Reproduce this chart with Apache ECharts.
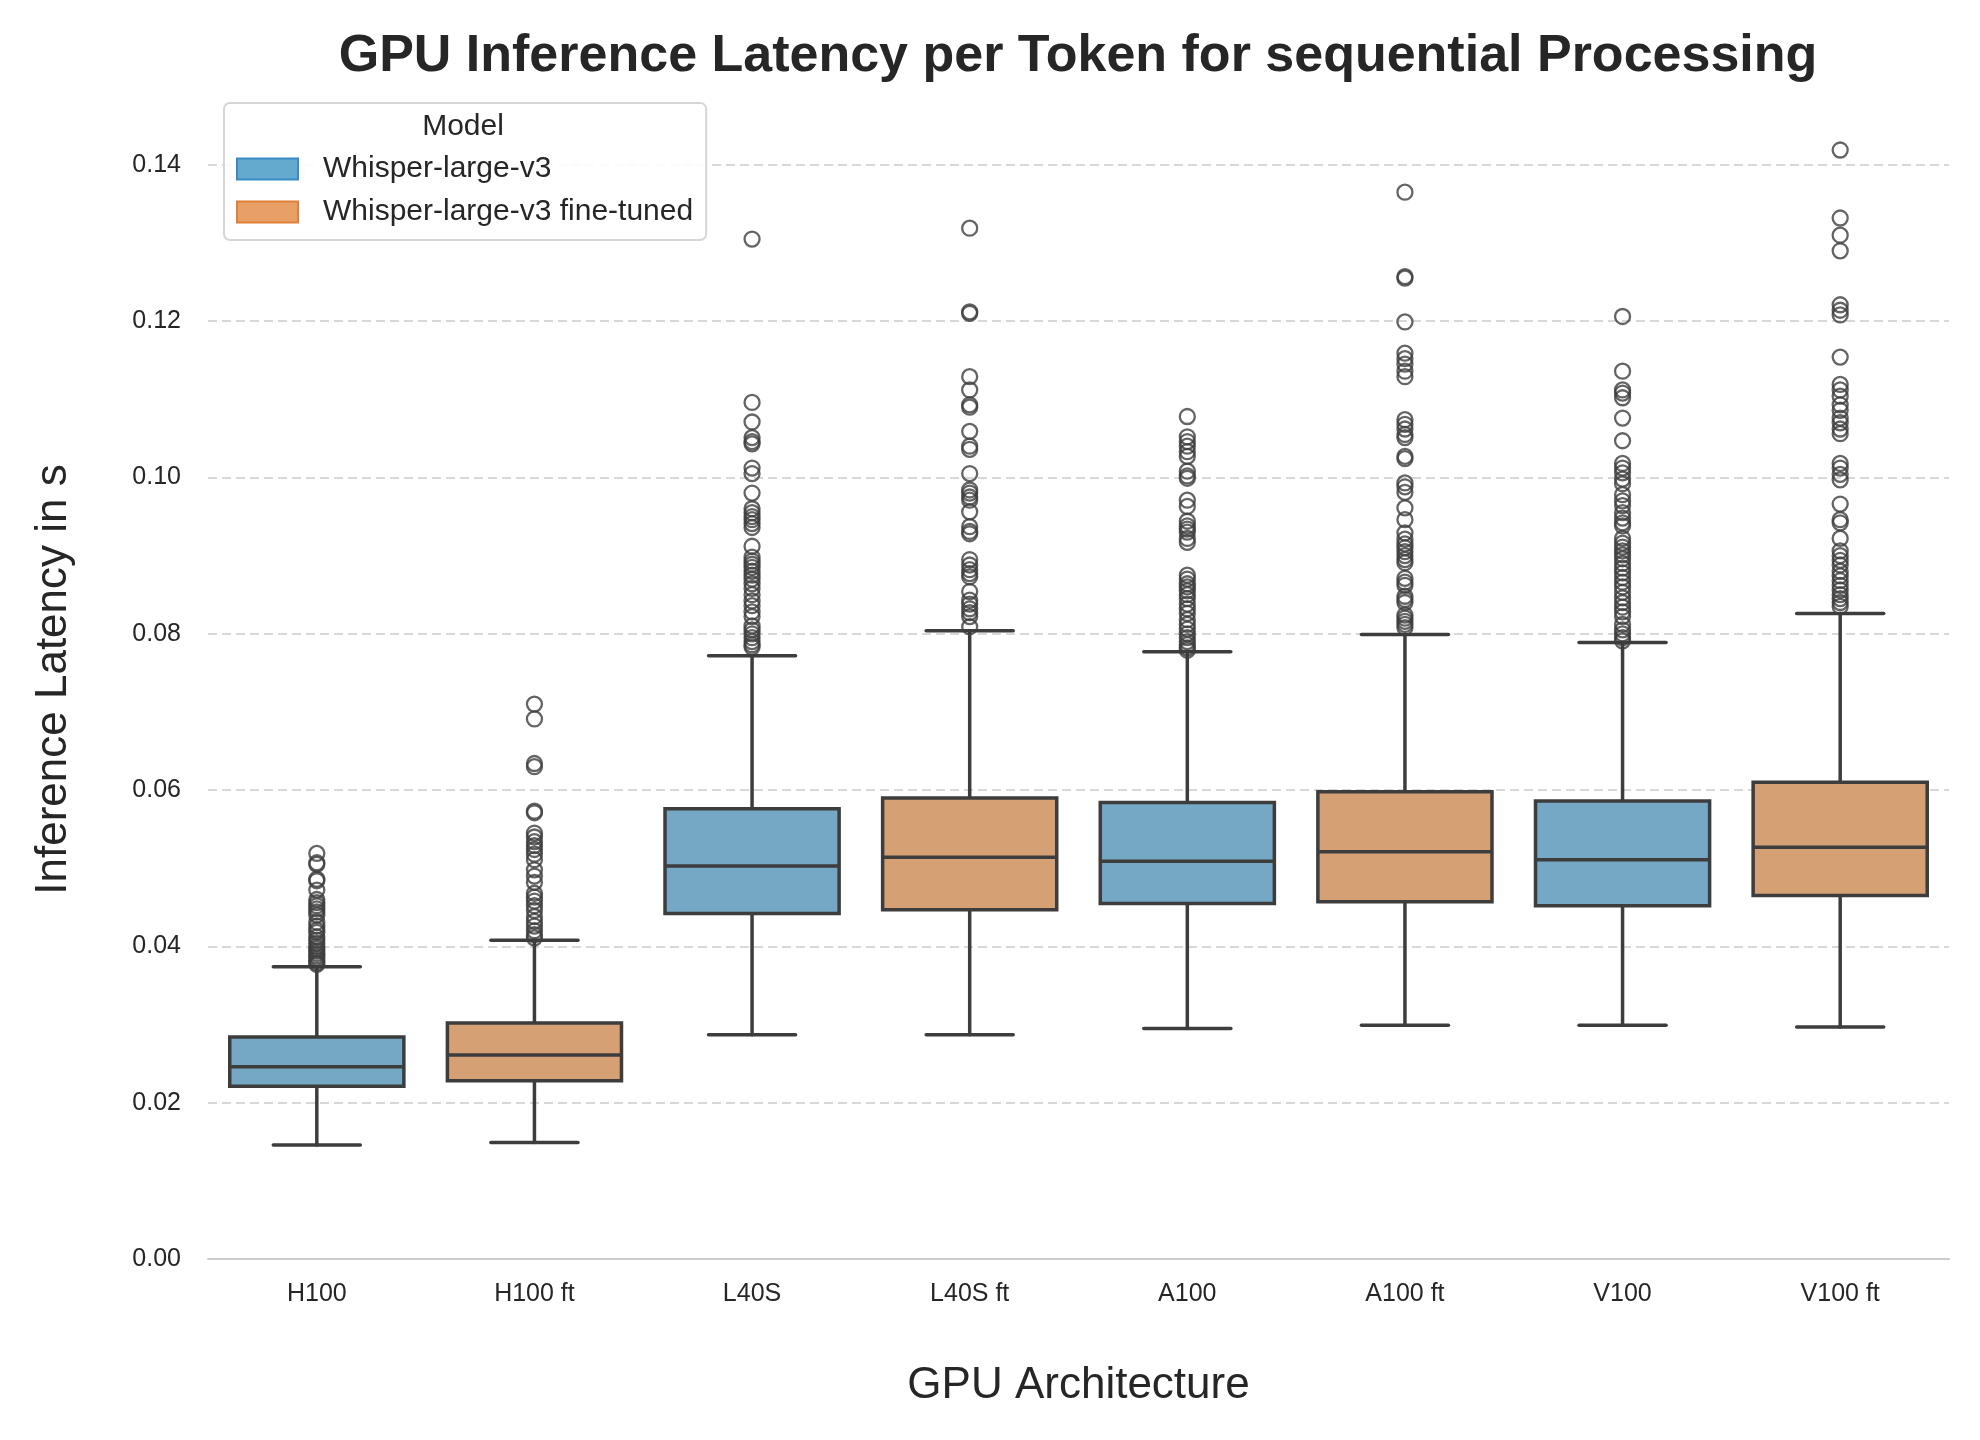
<!DOCTYPE html>
<html>
<head>
<meta charset="utf-8">
<title>GPU Inference Latency per Token</title>
<script src="https://cdn.jsdelivr.net/npm/echarts@6/dist/echarts.min.js"></script>
<style>
  html, body { margin: 0; padding: 0; background: #fff; }
  #chart { width: 1980px; height: 1440px; }
</style>
</head>
<body>
<div id="chart"></div>
<script>
// categorias del eje x
const gpus = ['H100', 'H100 ft', 'L40S', 'L40S ft', 'A100', 'A100 ft', 'V100', 'V100 ft'];
const models = ['Whisper-large-v3', 'Whisper-large-v3 fine-tuned'];

// [bigote inferior, Q1, mediana, Q3, bigote superior]
const boxH100   = [0.0146, 0.0221, 0.0246, 0.0284, 0.0374];
const boxH100ft = [0.0149, 0.0228, 0.0261, 0.0302, 0.0408];
const boxL40S   = [0.0287, 0.0442, 0.0503, 0.0576, 0.0772];
const boxL40Sft = [0.0287, 0.0447, 0.0514, 0.0590, 0.0804];
const boxA100   = [0.0295, 0.0455, 0.0509, 0.0584, 0.0777];
const boxA100ft = [0.0299, 0.0457, 0.0521, 0.0598, 0.0799];
const boxV100   = [0.0299, 0.0452, 0.0511, 0.0586, 0.0789];
const boxV100ft = [0.0297, 0.0465, 0.0527, 0.0610, 0.0826];

// valores atipicos
const outH100 = [0.0519, 0.0507, 0.0505, 0.0486, 0.0484, 0.0472, 0.0460, 0.0456, 0.0452, 0.0448, 0.0444, 0.0440,
  0.0431, 0.0426, 0.0421, 0.0418, 0.0412, 0.0408, 0.0404, 0.0400, 0.0397, 0.0394, 0.0391, 0.0388, 0.0385, 0.0382, 0.0379, 0.0377];
const outH100ft = [0.0710, 0.0691, 0.0634, 0.0630, 0.0573, 0.0571, 0.0545, 0.0540, 0.0534, 0.0529, 0.0524, 0.0518,
  0.0511, 0.0498, 0.0490, 0.0482, 0.0468, 0.0463, 0.0458, 0.0452, 0.0446, 0.0438, 0.0432, 0.0426, 0.0420, 0.0415, 0.0411];
const outL40S = [0.1305, 0.1096, 0.1071, 0.1051, 0.1046, 0.1043, 0.1012, 0.1005, 0.0980, 0.0960, 0.0955, 0.0950,
  0.0946, 0.0941, 0.0936, 0.0912, 0.0898, 0.0893, 0.0889, 0.0885, 0.0880, 0.0875, 0.0870, 0.0864, 0.0858, 0.0850,
  0.0842, 0.0836, 0.0828, 0.0822, 0.0810, 0.0805, 0.0800, 0.0795, 0.0790, 0.0786, 0.0783];
const outL40Sft = [0.1319, 0.1212, 0.1210, 0.1129, 0.1112, 0.1093, 0.1090, 0.1059, 0.1040, 0.1036, 0.1005, 0.0984,
  0.0980, 0.0975, 0.0971, 0.0956, 0.0937, 0.0931, 0.0928, 0.0895, 0.0888, 0.0882, 0.0877, 0.0873, 0.0854, 0.0843,
  0.0838, 0.0832, 0.0827, 0.0822, 0.0809];
const outA100 = [0.1078, 0.1052, 0.1046, 0.1040, 0.1033, 0.1027, 0.1008, 0.1002, 0.0999, 0.0971, 0.0963, 0.0944,
  0.0938, 0.0934, 0.0930, 0.0922, 0.0917, 0.0875, 0.0870, 0.0864, 0.0860, 0.0855, 0.0850, 0.0845, 0.0838, 0.0832,
  0.0826, 0.0818, 0.0812, 0.0806, 0.0800, 0.0795, 0.0790, 0.0786, 0.0782, 0.0779];
const outA100ft = [0.1365, 0.1257, 0.1255, 0.1199, 0.1159, 0.1152, 0.1145, 0.1136, 0.1129, 0.1074, 0.1068, 0.1062,
  0.1055, 0.1051, 0.1027, 0.1024, 0.0993, 0.0988, 0.0981, 0.0961, 0.0946, 0.0929, 0.0921, 0.0915, 0.0910, 0.0905,
  0.0900, 0.0895, 0.0891, 0.0871, 0.0866, 0.0862, 0.0848, 0.0844, 0.0840, 0.0824, 0.0820, 0.0816, 0.0812, 0.0808];
const outV100 = [0.1206, 0.1136, 0.1112, 0.1108, 0.1102, 0.1076, 0.1047, 0.1018, 0.1012, 0.1006, 0.0998, 0.0992,
  0.0978, 0.0970, 0.0964, 0.0955, 0.0948, 0.0942, 0.0938, 0.0922, 0.0916, 0.0911, 0.0906, 0.0901, 0.0896, 0.0890,
  0.0884, 0.0878, 0.0872, 0.0866, 0.0860, 0.0853, 0.0846, 0.0840, 0.0834, 0.0828, 0.0822, 0.0812, 0.0805, 0.0800,
  0.0795, 0.0791];
const outV100ft = [0.1419, 0.1332, 0.1310, 0.1290, 0.1221, 0.1214, 0.1208, 0.1154, 0.1119, 0.1112, 0.1104, 0.1093,
  0.1086, 0.1076, 0.1070, 0.1062, 0.1056, 0.1018, 0.1012, 0.1004, 0.0997, 0.0966, 0.0946, 0.0942, 0.0922, 0.0906,
  0.0900, 0.0894, 0.0888, 0.0880, 0.0874, 0.0868, 0.0862, 0.0856, 0.0850, 0.0845, 0.0840, 0.0835];

const boxes = [boxH100, boxH100ft, boxL40S, boxL40Sft, boxA100, boxA100ft, boxV100, boxV100ft];
const outliers = [outH100, outH100ft, outL40S, outL40Sft, outA100, outA100ft, outV100, outV100ft];

const FONT = '"Liberation Sans", Arial, sans-serif';
const INK = '#262626';
const EDGE = '#3d3d3d';
const boxColors = ['#74a8c5', '#d5a074'];

// indice par = modelo base, impar = fine-tuned
function boxData(modelIdx) {
    return boxes.map((b, i) => [i].concat(b)).filter(d => d[0] % 2 === modelIdx);
}

function drawBox(params, api) {
    const cat = api.value(0);
    const lo = api.coord([cat, api.value(1)]);
    const q1 = api.coord([cat, api.value(2)]);
    const med = api.coord([cat, api.value(3)]);
    const q3 = api.coord([cat, api.value(4)]);
    const hi = api.coord([cat, api.value(5)]);
    const w = api.size([1, 0])[0] * 0.8;
    const cx = med[0];
    const ln = () => ({ stroke: EDGE, lineWidth: 3.5, lineCap: 'round' });
    return {
        type: 'group',
        children: [
            { type: 'line', shape: { x1: cx, y1: q3[1], x2: cx, y2: hi[1] }, style: ln() },
            { type: 'line', shape: { x1: cx, y1: q1[1], x2: cx, y2: lo[1] }, style: ln() },
            { type: 'line', shape: { x1: cx - w / 4, y1: hi[1], x2: cx + w / 4, y2: hi[1] }, style: ln() },
            { type: 'line', shape: { x1: cx - w / 4, y1: lo[1], x2: cx + w / 4, y2: lo[1] }, style: ln() },
            { type: 'rect', shape: { x: cx - w / 2, y: q3[1], width: w, height: q1[1] - q3[1] },
              style: { fill: api.visual('color'), stroke: EDGE, lineWidth: 3.5 } },
            { type: 'line', shape: { x1: cx - w / 2, y1: med[1], x2: cx + w / 2, y2: med[1] },
              style: { stroke: EDGE, lineWidth: 3.5 } }
        ]
    };
}

const outlierData = [];
outliers.forEach((list, i) => list.forEach(v => outlierData.push([i, v])));

const chart = echarts.init(document.getElementById('chart'));
chart.setOption({
    animation: false,
    backgroundColor: '#ffffff',
    graphic: [
        { type: 'text', x: 1078, y: 57, z: 10,
          style: { text: 'GPU Inference Latency per Token for sequential Processing', font: 'bold 52px ' + FONT,
                   fill: INK, textAlign: 'center', textVerticalAlign: 'middle' } },
        { type: 'text', x: 463, y: 127, z: 10,
          style: { text: 'Model', font: '30px ' + FONT, fill: INK, textAlign: 'center', textVerticalAlign: 'middle' } }
    ],
    legend: {
        data: [
            { name: models[0], itemStyle: { color: '#64aace', borderColor: '#398cc3', borderWidth: 2 } },
            { name: models[1], itemStyle: { color: '#e8a066', borderColor: '#e08038', borderWidth: 2 } }
        ],
        orient: 'vertical',
        left: 224,
        top: 103,
        icon: 'rect',
        itemWidth: 61,
        itemHeight: 21,
        itemGap: 13,
        padding: [51, 13, 13, 12],
        backgroundColor: 'rgba(255,255,255,0.9)',
        borderColor: '#d6d6d6',
        borderWidth: 2,
        borderRadius: 6,
        selectedMode: false,
        textStyle: { fontFamily: FONT, fontSize: 30, color: INK, lineHeight: 30, padding: [0, 0, 0, 20] }
    },
    grid: { left: 208, right: 31, top: 100, bottom: 181 },
    xAxis: {
        type: 'category',
        data: gpus,
        axisLine: { lineStyle: { color: '#cccccc', width: 2 } },
        axisTick: { show: false },
        axisLabel: { fontFamily: FONT, fontSize: 25, color: INK, margin: 23 },
        splitLine: { show: false },
        name: 'GPU Architecture',
        nameLocation: 'middle',
        nameGap: 105,
        nameTextStyle: { fontFamily: FONT, fontSize: 44, color: INK }
    },
    yAxis: {
        type: 'value',
        min: 0,
        max: 0.1483,
        interval: 0.02,
        axisLine: { show: false },
        axisTick: { show: false },
        axisLabel: {
            fontFamily: FONT, fontSize: 25, color: INK, margin: 27,
            formatter: v => Math.abs(v / 0.02 - Math.round(v / 0.02)) < 1e-6 ? v.toFixed(2) : ''
        },
        splitLine: { showMinLine: false, showMaxLine: false,
                     lineStyle: { color: '#cccccc', width: 1.5, type: [9, 5] } },
        name: 'Inference Latency in s',
        nameLocation: 'middle',
        nameGap: 132,
        nameTextStyle: { fontFamily: FONT, fontSize: 44, color: INK }
    },
    series: [
        { name: models[0], type: 'custom', renderItem: drawBox, data: boxData(0),
          itemStyle: { color: boxColors[0] }, encode: { x: 0, y: [1, 2, 3, 4, 5] }, z: 2 },
        { name: models[1], type: 'custom', renderItem: drawBox, data: boxData(1),
          itemStyle: { color: boxColors[1] }, encode: { x: 0, y: [1, 2, 3, 4, 5] }, z: 2 },
        { name: 'outliers', type: 'scatter', data: outlierData, symbol: 'circle', symbolSize: 15, z: 3,
          itemStyle: { color: 'rgba(0,0,0,0)', borderColor: EDGE, borderWidth: 2.3 } }
    ]
});
</script>
</body>
</html>
